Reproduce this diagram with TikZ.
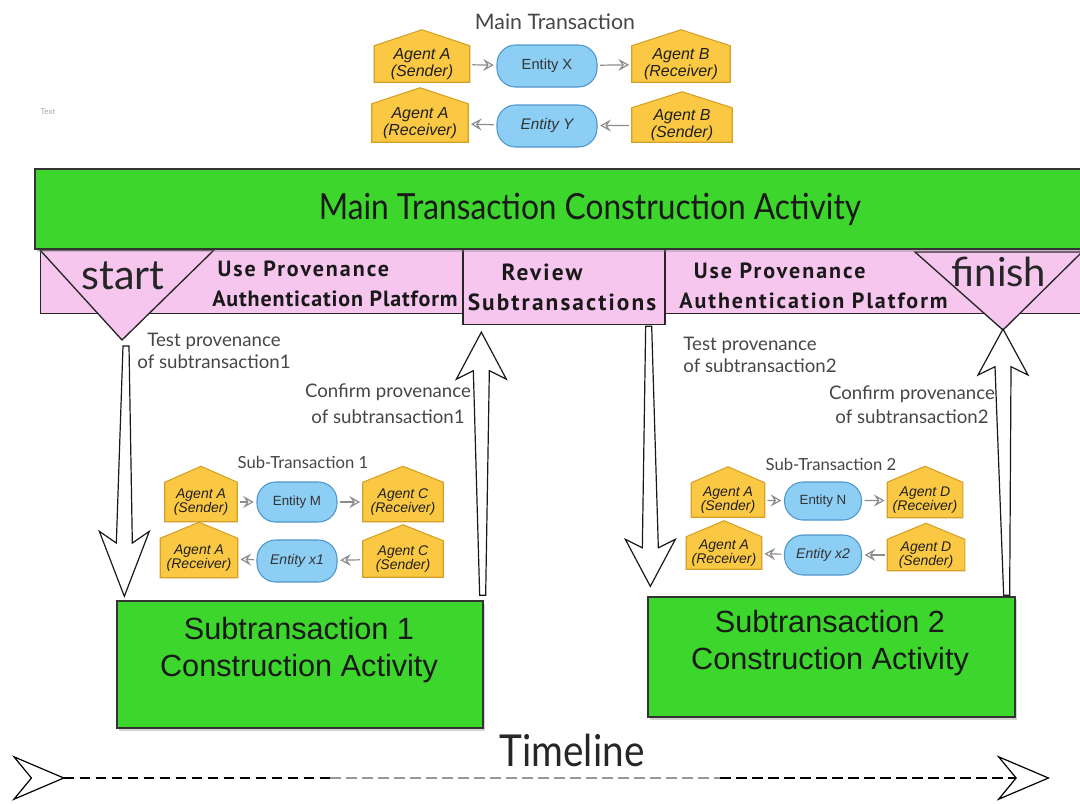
\documentclass[tikz,border=0pt]{standalone}
\usepackage{fontspec}
\setmainfont{Liberation Sans}
\newfontfamily\gill{Lato}
\newfontfamily\gillc[FakeStretch=0.88]{Lato}
\newfontfamily\tempus[LetterSpace=4]{PT Sans}
\newfontfamily\tempusw[LetterSpace=9]{PT Sans}
\usetikzlibrary{calc,arrows.meta,backgrounds,shadows}
\definecolor{pgreen}{RGB}{61,214,44}
\definecolor{ppink}{RGB}{247,198,238}
\definecolor{agentfill}{RGB}{250,200,66}
\definecolor{agentdraw}{RGB}{214,160,40}
\definecolor{entfill}{RGB}{140,206,244}
\definecolor{entdraw}{RGB}{80,150,205}
\definecolor{flowgrey}{RGB}{140,140,140}
\definecolor{txtgrey}{RGB}{70,70,70}

\newcommand{\agent}[6]{%
  \node[agentnode, minimum width=#4*0.75pt, minimum height=#5*0.75pt] (#1) at (#2,#3) {#6};
  \begin{pgfonlayer}{background}
    \draw[agentshape] (#1.south west) -- (#1.south east) -- (#1.north east) -- ($(#1.north)+(0,-16)$) -- (#1.north west) -- cycle;
  \end{pgfonlayer}}

\newcommand{\fatarrow}[4]{%
  \pgfmathsetmacro\fhl{-1*(#3)*(#4)}%
  \pgfmathsetmacro\fnl{-0.82*(#3)*(#4)}%
  \draw[fatarr] ($(#1)+(-3,0)$) -- ($(#2)+(-8,\fnl)$) -- ($(#2)+(-25,\fhl)$) -- (#2) -- ($(#2)+(25,\fhl)$) -- ($(#2)+(8,\fnl)$) -- ($(#1)+(3,0)$) -- cycle;}

\tikzset{
  tlheadF/.tip={Stealth[open, length=40pt, width=34pt, inset=14pt, line width=0.9pt]},
  tlheadR/.tip={Stealth[open, reversed, length=40pt, width=34pt, inset=14pt, line width=0.9pt]}
}

\begin{document}
\begin{tikzpicture}[x=0.75pt,y=-0.75pt,
  greenbox/.style={draw=black!80, line width=1pt, fill=pgreen, inner sep=0pt,
     drop shadow={opacity=0.35, shadow xshift=1.5pt, shadow yshift=-2pt}},
  pinkbox/.style={draw=black!85, line width=1pt, fill=ppink, inner sep=0pt},
  agentfont/.style={font=\fontsize{12}{12.5}\selectfont\itshape},
  agentnode/.style={inner sep=0pt, align=center, text=black!88, agentfont},
  agentshape/.style={draw=agentdraw, line width=0.8pt, fill=agentfill},
  entfont/.style={font=\fontsize{11}{12}\selectfont},
  entity/.style={draw=entdraw, line width=0.8pt, fill=entfill, rounded corners=14pt, inner sep=0pt, text=black!80, entfont},
  flow/.style={draw=flowgrey, line width=0.9pt, -{Stealth[open, length=8pt, width=9pt, inset=3pt]}, shorten <=2pt, shorten >=2pt},
  fatarr/.style={draw=black!90, line width=0.9pt, fill=white, line join=miter},
  gilltxt/.style={font=\gill\fontsize{14}{16}\selectfont, text=txtgrey, align=center, inner sep=0pt},
  boldtxt/.style={font=\tempus\bfseries\fontsize{16.5}{22.5}\selectfont, text=black!90, align=left, inner sep=0pt},
  bigtxt/.style={font=\fontsize{23}{28}\selectfont, text=black!90, align=center, inner sep=0pt},
  tline/.style={line width=1.4pt, dash pattern=on 8pt off 4pt}
]
\useasboundingbox (0,0) rectangle (1080,803);

% ---------- Main transaction (top) ----------
\node[gilltxt, font=\gill\fontsize{16}{17}\selectfont] (maintitle) at (555,22) {Main Transaction};
\node[font=\gill\fontsize{6}{7}\selectfont, text=black!35] (txt) at (48,112) {Text};

\agent{aAs}{422}{64}{95}{36}{Agent A\\(Sender)}
\agent{aBr}{681}{64}{98}{36}{Agent B\\(Receiver)}
\agent{aAr}{420}{123}{96}{38}{Agent A\\(Receiver)}
\agent{aBs}{682}{125}{100}{34}{Agent B\\(Sender)}
\node[entity, minimum width=100*0.75pt, minimum height=42*0.75pt] (eX) at (547,66) {Entity X};
\node[entity, minimum width=100*0.75pt, minimum height=42*0.75pt, font=\fontsize{11.5}{12}\selectfont\itshape] (eY) at (547,126) {Entity Y};
\draw[flow] (aAs) -- (eX);
\draw[flow] (eX) -- (aBr);
\draw[flow] (eY) -- (aAr);
\draw[flow] (aBs) -- (eY);

% ---------- Platform strip ----------
\node[pinkbox, anchor=north west, minimum width=1060*0.75pt, minimum height=64*0.75pt] (strip) at (40,249) {};
\node[pinkbox, minimum width=202*0.75pt, minimum height=75*0.75pt] (review) at (564,287) {};
\node[boldtxt, font=\tempusw\bfseries\fontsize{17.5}{22.5}\selectfont, align=center] (reviewtxt) at (562,287) {Review\hspace*{30pt}\\Subtransactions};
\coordinate (starttip) at (122,340);
\coordinate (finishtip) at (1003,330);
\draw[pinkbox] (40,250) -- (214,250) -- (starttip) -- cycle;
\draw[pinkbox] (915,252) -- (1082,252) -- (finishtip) -- cycle;
\node[font=\gill\fontsize{31}{31}\selectfont, text=black!85, inner sep=0pt] (startlbl) at (123,276) {start};
\node[font=\gill\fontsize{30}{30}\selectfont, text=black!85, inner sep=0pt] (finishlbl) at (999,272) {finish};
\node[boldtxt, anchor=west] (plat1) at (212,284) {\hspace*{4pt}{\tempusw Use Provenance}\\Authentication Platform};
\node[boldtxt, anchor=west, font=\tempusw\bfseries\fontsize{16.5}{22.5}\selectfont] (plat2) at (679,286) {\hspace*{11pt}Use Provenance\\Authentication Platform};

% ---------- Main bar ----------
\node[greenbox, minimum width=1110*0.75pt, minimum height=80*0.75pt, font=\gillc\fontsize{27}{27}\selectfont, text=black!90] (mainbar) at (590,209) {Main Transaction Construction Activity};

% ---------- Sub-transaction activities ----------
\node[greenbox, minimum width=366*0.75pt, minimum height=127*0.75pt] (sub1) at (300,664.5) {};
\node[bigtxt] (sub1txt) at (299,650) {Subtransaction 1\\Construction Activity};
\node[greenbox, minimum width=367*0.75pt, minimum height=120*0.75pt] (sub2) at (831.5,657) {};
\node[bigtxt] (sub2txt) at (830,643) {Subtransaction 2\\Construction Activity};

% ---------- Sub-Transaction 1 ----------
\node[gilltxt, font=\gill\fontsize{12.5}{14}\selectfont] (st1title) at (303,462) {Sub-Transaction 1};
\begin{scope}[agentfont/.style={font=\fontsize{10.5}{11}\selectfont\itshape},
              entfont/.style={font=\fontsize{10}{11}\selectfont}]
\agent{s1As}{201}{502}{72}{39}{Agent A\\(Sender)}
\agent{s1Cr}{403}{502}{80}{39}{Agent C\\(Receiver)}
\agent{s1Ar}{199}{558}{77}{39}{Agent A\\(Receiver)}
\agent{s1Cs}{403}{559}{80}{36}{Agent C\\(Sender)}
\node[entity, minimum width=80*0.75pt, minimum height=40*0.75pt] (eM) at (297,502) {Entity M};
\node[entity, minimum width=80*0.75pt, minimum height=42*0.75pt, font=\fontsize{10.5}{11}\selectfont\itshape] (ex1) at (297,561) {Entity x1};
\draw[flow] (s1As) -- (eM);
\draw[flow] (eM) -- (s1Cr);
\draw[flow] (ex1) -- (s1Ar);
\draw[flow] (s1Cs) -- (ex1);

% ---------- Sub-Transaction 2 ----------
\node[gilltxt, font=\gill\fontsize{12.5}{14}\selectfont] (st2title) at (831,464) {Sub-Transaction 2};
\agent{s2As}{728}{500}{73}{34}{Agent A\\(Sender)}
\agent{s2Dr}{925}{500}{75}{35}{Agent D\\(Receiver)}
\agent{s2Ar}{724}{553}{75}{32}{Agent A\\(Receiver)}
\agent{s2Ds}{926}{555}{77}{31}{Agent D\\(Sender)}
\node[entity, minimum width=77*0.75pt, minimum height=38*0.75pt] (eN) at (823,501) {Entity N};
\node[entity, minimum width=77*0.75pt, minimum height=40*0.75pt, font=\fontsize{10.5}{11}\selectfont\itshape] (ex2) at (823,555) {Entity x2};
\draw[flow] (s2As) -- (eN);
\draw[flow] (eN) -- (s2Dr);
\draw[flow] (ex2) -- (s2Ar);
\draw[flow] (s2Ds) -- (ex2);
\end{scope}

% ---------- Provenance labels ----------
\node[gilltxt] (test1) at (214,351) {Test provenance\\of subtransaction1};
\node[gilltxt, font=\gill\fontsize{14}{19.5}\selectfont] (conf1) at (388,404) {Confirm provenance\\of subtransaction1};
\node[gilltxt, align=left] (test2) at (760,355) {Test provenance\\of subtransaction2};
\node[gilltxt, font=\gill\fontsize{14}{18}\selectfont] (conf2) at (912,405) {Confirm provenance\\of subtransaction2};

% ---------- Big arrows ----------
\coordinate (d1tail) at ($(starttip)+(4,6)$);
\coordinate (d1tip) at ($(sub1.north west)+(8,-4)$);
\coordinate (u1tail) at ($(sub1.north east)+(-1,-5)$);
\coordinate (u1tip) at ($(review.south west)+(19,7)$);
\coordinate (d2tail) at ($(review.south east)+(-17,1)$);
\coordinate (d2tip) at ($(sub2.north west)+(3,-10)$);
\coordinate (u2tail) at ($(sub2.north east)+(-9,-1)$);
\coordinate (u2tip) at ($(finishtip)+(0,-1)$);
\fatarrow{d1tail}{d1tip}{1}{65}
\fatarrow{u1tail}{u1tip}{-1}{47}
\fatarrow{d2tail}{d2tip}{1}{47}
\fatarrow{u2tail}{u2tip}{-1}{46}

% ---------- Timeline ----------
\node[font=\gillc\fontsize{33}{33}\selectfont, text=black!85, inner sep=0pt] (timeline) at (572,750) {Timeline};
\coordinate (tl0) at (12,778);
\coordinate (tlA) at (330,778);
\coordinate (tlB) at (720,778);
\coordinate (tl1) at (1050,778);
\draw[tline, tlheadR-] (tl0) -- (tlA);
\draw[tline, draw=black!40] (tlA) -- (tlB);
\draw[tline, -tlheadF] (tlB) -- (tl1);
\end{tikzpicture}
\end{document}
